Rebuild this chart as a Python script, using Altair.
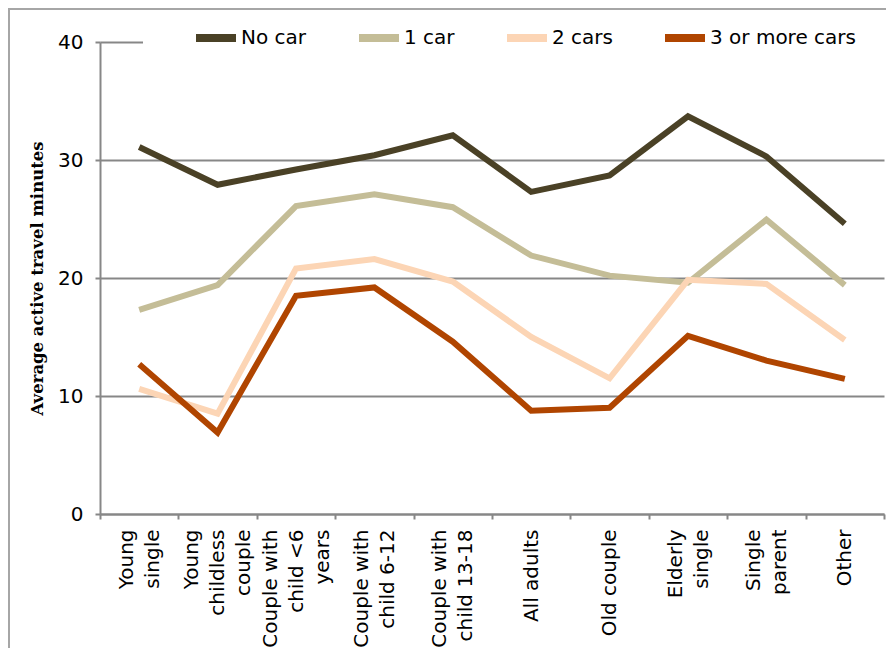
import altair as alt
import pandas as pd

categories = [
    "Young|single",
    "Young|childless|couple",
    "Couple with|child <6|years",
    "Couple with|child 6-12",
    "Couple with|child 13-18",
    "All adults",
    "Old couple",
    "Elderly|single",
    "Single|parent",
    "Other",
]
series_names = ["No car", "1 car", "2 cars", "3 or more cars"]
no_car = [31.1, 27.9, 29.2, 30.4, 32.1, 27.3, 28.7, 33.7, 30.3, 24.6]
one_car = [17.3, 19.4, 26.1, 27.1, 26.0, 21.9, 20.2, 19.6, 24.95, 19.4]
two_cars = [10.6, 8.5, 20.8, 21.6, 19.7, 15.0, 11.5, 19.85, 19.5, 14.75]
three_plus = [12.7, 6.9, 18.5, 19.2, 14.6, 8.75, 9.0, 15.1, 13.0, 11.45]
colors = ["#4a4126", "#c4bd97", "#fcd5b5", "#b04500"]

rows = []
for name, vals in zip(series_names, [no_car, one_car, two_cars, three_plus]):
    for c, v in zip(categories, vals):
        rows.append({"category": c, "series": name, "value": v})
df = pd.DataFrame(rows)

W, H = 784, 472
LH = 26

base_deco = alt.Chart(alt.Data(values=[{}]))

border = base_deco.mark_rect(filled=False, stroke="#a6a6a6", strokeWidth=2, clip=False).encode(
    x=alt.value(-91), x2=alt.value(W + 60), y=alt.value(-33), y2=alt.value(H + 200)
)

# white legend background that hides the top gridline, as in the original
legend_bg = base_deco.mark_rect(fill="white", clip=False).encode(
    x=alt.value(43), x2=alt.value(W + 4), y=alt.value(-12), y2=alt.value(6)
)

lines = alt.Chart(df).mark_line(strokeWidth=6, strokeJoin="miter", strokeCap="butt").encode(
    x=alt.X(
        "category:N",
        sort=categories,
        bandPosition=0.5,
        scale=alt.Scale(type="band", paddingInner=0, paddingOuter=0),
        axis=alt.Axis(
            title=None,
            labelExpr="split(datum.label, '|')",
            labelAngle=270,
            labelAlign="right",
            labelBaseline="middle",
            labelFont="DejaVu Sans",
            labelFontSize=20,
            labelColor="black",
            labelLineHeight=LH,
            labelPadding=10,
            labelOffset={"expr": f"-(length(split(datum.label, '|')) - 1) * {LH / 2}"},
            tickBand="extent",
            ticks=True,
            tickSize=5,
            tickColor="#878787",
            tickWidth=2,
            domainColor="#878787",
            domainWidth=2,
            grid=False,
        ),
    ),
    y=alt.Y(
        "value:Q",
        scale=alt.Scale(domain=[0, 40], nice=False),
        axis=alt.Axis(
            title="Average active travel minutes",
            titleFont="DejaVu Serif",
            titleFontWeight="bold",
            titleFontSize=16.5,
            titleColor="black",
            titlePadding=12,
            values=[0, 10, 20, 30, 40],
            labelFont="DejaVu Sans",
            labelFontSize=20,
            labelColor="black",
            labelPadding=12,
            tickSize=5,
            tickColor="#878787",
            tickWidth=2,
            domainColor="#878787",
            domainWidth=2,
            grid=True,
            gridColor="#878787",
            gridWidth=2,
        ),
    ),
    color=alt.Color(
        "series:N",
        sort=series_names,
        scale=alt.Scale(domain=series_names, range=colors),
        legend=alt.Legend(
            title=None,
            orient="none",
            direction="horizontal",
            legendX=92,
            legendY=-28,
            symbolType="stroke",
            symbolSize=1600,
            symbolStrokeWidth=8,
            symbolOpacity=1,
            labelFont="DejaVu Sans",
            labelFontSize=20,
            labelColor="black",
            labelOffset=1,
            columnPadding=36,
            padding=0,
        ),
    ),
)

chart = alt.layer(border, legend_bg, lines).properties(
    width=W,
    height=H,
    padding={"left": 92, "top": 34, "right": 2, "bottom": 134},
    autosize=alt.AutoSizeParams(type="none"),
).configure_view(stroke=None)

chart.save("out.html", embed_options={"renderer": "svg", "actions": False})
